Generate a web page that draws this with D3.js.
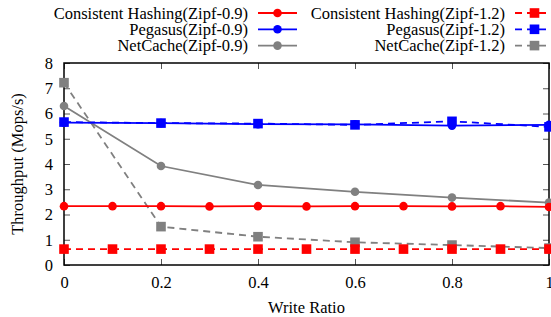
<!DOCTYPE html>
<html>
<head>
<meta charset="utf-8">
<script src="https://cdn.jsdelivr.net/npm/d3@7"></script>
<style>
  body { margin: 0; background: #fff; }
  text { font-family: 'Liberation Serif', 'Times New Roman', serif; }
</style>
</head>
<body>
<div id="chart"></div>
<script>
const xTicks = [0, 0.2, 0.4, 0.6, 0.8, 1]
const yTicks = [0, 1, 2, 3, 4, 5, 6, 7, 8]

const chX = [0, 0.1, 0.2, 0.3, 0.4, 0.5, 0.6, 0.7, 0.8, 0.9, 1]
const ch09 = [2.33, 2.33, 2.33, 2.32, 2.33, 2.32, 2.33, 2.33, 2.32, 2.33, 2.3]
const ch12 = [0.63, 0.63, 0.63, 0.63, 0.63, 0.63, 0.63, 0.63, 0.63, 0.63, 0.63]

const otherX = [0, 0.2, 0.4, 0.6, 0.8, 1]
const pegasus09 = [5.64, 5.62, 5.58, 5.57, 5.52, 5.55]
const pegasus12 = [5.66, 5.62, 5.6, 5.55, 5.69, 5.47]
const netcache09 = [6.3, 3.92, 3.17, 2.9, 2.67, 2.47]
const netcache12 = [7.22, 1.52, 1.12, 0.9, 0.79, 0.67]

const series = [
  { name: 'Consistent Hashing(Zipf-0.9)', xs: chX, ys: ch09, color: '#ff0000', dash: null, shape: 'circle' },
  { name: 'Pegasus(Zipf-0.9)', xs: otherX, ys: pegasus09, color: '#0000ff', dash: null, shape: 'circle' },
  { name: 'NetCache(Zipf-0.9)', xs: otherX, ys: netcache09, color: '#808080', dash: null, shape: 'circle' },
  { name: 'Consistent Hashing(Zipf-1.2)', xs: chX, ys: ch12, color: '#ff0000', dash: '7,5', shape: 'square' },
  { name: 'Pegasus(Zipf-1.2)', xs: otherX, ys: pegasus12, color: '#0000ff', dash: '7,5', shape: 'square' },
  { name: 'NetCache(Zipf-1.2)', xs: otherX, ys: netcache12, color: '#808080', dash: '7,5', shape: 'square' }
]

const W = 551, H = 317
const margin = { top: 63, right: 2, bottom: 52, left: 64 }
const width = W - margin.left - margin.right
const height = H - margin.top - margin.bottom

const root = d3.select('#chart').append('svg')
  .attr('width', W).attr('height', H)

const svg = root.append('g')
  .attr('transform', 'translate(' + margin.left + ',' + margin.top + ')')

const x = d3.scaleLinear().domain([0, 1]).range([0, width])
const y = d3.scaleLinear().domain([0, 8]).range([height, 0])

// axes, ticks pointing inward, mirrored on top/right
const fs = '16.5px'
const axBottom = svg.append('g').attr('transform', 'translate(0,' + height + ')')
  .call(d3.axisBottom(x).tickValues(xTicks).tickSize(-6).tickPadding(11).tickFormat(d3.format('')))
const axTop = svg.append('g')
  .call(d3.axisTop(x).tickValues(xTicks).tickSize(-6).tickFormat(''))
const axLeft = svg.append('g')
  .call(d3.axisLeft(y).tickValues(yTicks).tickSize(-6).tickPadding(11))
const axRight = svg.append('g').attr('transform', 'translate(' + width + ',0)')
  .call(d3.axisRight(y).tickValues(yTicks).tickSize(-6).tickFormat(''))

;[axBottom, axTop, axLeft, axRight].forEach(g => {
  g.select('.domain').remove()
  g.selectAll('line').attr('stroke', '#555').attr('stroke-width', 1)
  g.selectAll('text').attr('font-family', "'Liberation Serif', serif").attr('font-size', fs).attr('fill', '#000')
})

svg.append('rect')
  .attr('width', width).attr('height', height)
  .attr('fill', 'none').attr('stroke', '#000').attr('stroke-width', 1.5)

// lines and markers
const line = d3.line().x(d => x(d[0])).y(d => y(d[1]))

function drawMarker (g, shape, cx, cy, color) {
  if (shape === 'circle') {
    g.append('circle').attr('cx', cx).attr('cy', cy).attr('r', 4.3).attr('fill', color)
  } else {
    g.append('rect').attr('x', cx - 4.8).attr('y', cy - 4.8).attr('width', 9.6).attr('height', 9.6).attr('fill', color)
  }
}

const order = [5, 3, 4, 2, 0, 1]
order.forEach(i => {
  const s = series[i]
  const pts = s.xs.map((v, j) => [v, s.ys[j]])
  const g = svg.append('g')
  g.append('path')
    .attr('d', line(pts))
    .attr('fill', 'none')
    .attr('stroke', s.color)
    .attr('stroke-width', 1.8)
    .attr('stroke-dasharray', s.dash)
  pts.forEach(p => drawMarker(g, s.shape, x(p[0]), y(p[1]), s.color))
})

// legend
const legend = root.append('g')
series.forEach((s, i) => {
  const col = i < 3 ? 0 : 1
  const row = i % 3
  const textX = col === 0 ? 248 : 505
  const ly = 13 + row * 16.3
  legend.append('text')
    .attr('x', textX).attr('y', ly).attr('dy', '0.35em')
    .attr('text-anchor', 'end').attr('font-size', fs)
    .text(s.name)
  legend.append('line')
    .attr('x1', textX + 10).attr('x2', textX + 49)
    .attr('y1', ly).attr('y2', ly)
    .attr('stroke', s.color).attr('stroke-width', 1.8)
    .attr('stroke-dasharray', s.dash)
  drawMarker(legend, s.shape, textX + 29.5, ly, s.color)
})

// axis titles
root.append('text')
  .attr('x', margin.left + width / 2).attr('y', 312.5)
  .attr('text-anchor', 'middle').attr('font-size', fs)
  .text('Write Ratio')

root.append('text')
  .attr('transform', 'translate(17,' + (margin.top + height / 2) + ') rotate(-90)')
  .attr('dy', '0.35em')
  .attr('text-anchor', 'middle').attr('font-size', fs)
  .text('Throughput (Mops/s)')
</script>
</body>
</html>
